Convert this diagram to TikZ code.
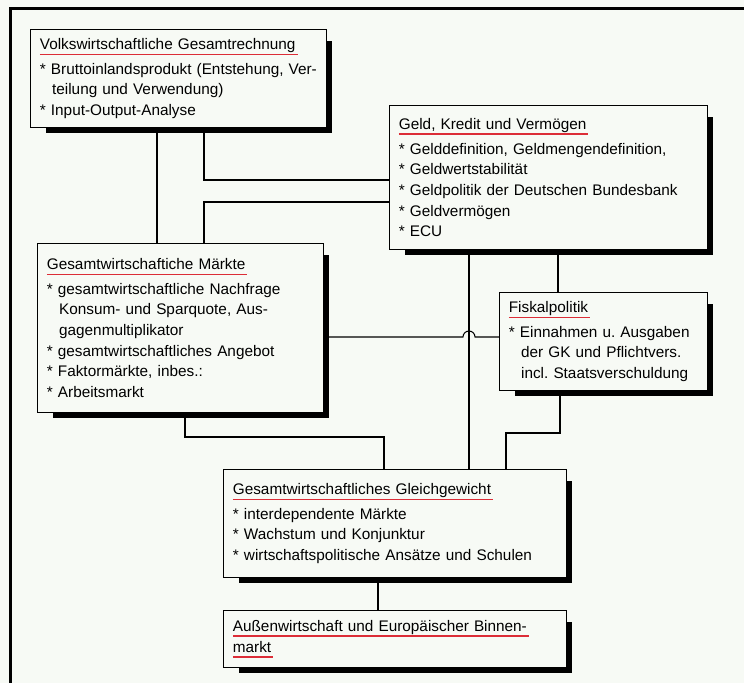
\documentclass[tikz,border=0pt]{standalone}
\usepackage{fontspec}
\setmainfont{Liberation Sans}
\usepackage{xcolor}
\usetikzlibrary{backgrounds}

\definecolor{paper}{RGB}{247,250,245}
\definecolor{ttlred}{RGB}{220,45,55}

\newsavebox{\ttlbox}
\newcommand{\ttl}[1]{\leavevmode\sbox{\ttlbox}{#1}\rlap{\textcolor{ttlred}{\rule[-4.2pt]{\dimexpr\wd\ttlbox+1.5pt\relax}{1.2pt}}}\usebox{\ttlbox}}
\newcommand{\itm}{*\ }
\newcommand{\cont}{\leavevmode\hspace*{0.8em}}

\tikzset{
  box/.style={draw, fill=paper, anchor=north west, align=left,
              inner xsep=7pt, inner ysep=4pt, line width=0.8pt,
              font=\fontsize{11.5}{15.5}\selectfont},
  link/.style={line width=0.8pt},
}

\begin{document}
\begin{tikzpicture}[x=0.75pt, y=-0.75pt]
                \useasboundingbox (0,0) rectangle (744,683);
                \draw[line width=2pt] (10.5,683) |- (744,8.5);

                \node [box, text width=208pt, minimum height=73.5pt]
                                        (vg) at (30,29)
                        {\ttl{Volkswirtschaftliche Gesamtrechnung}\\[3pt]
                         \itm Bruttoinlandsprodukt (Entstehung, Ver-\\
                         \cont teilung und Verwendung)\\
                         \itm Input-Output-Analyse};
                \node [box, text width=224.5pt, minimum height=108pt]
                                        (geld) at (389,105)
                        {\ttl{Geld, Kredit und Vermögen}\\[3pt]
                         \itm Gelddefinition, Geldmengendefinition,\\
                         \itm Geldwertstabilität\\
                         \itm Geldpolitik der Deutschen Bundesbank\\
                         \itm Geldvermögen\\
                         \itm ECU};
                \node [box, text width=200.5pt, minimum height=126.75pt]
                                        (mk) at (37,243)
                        {\ttl{Gesamtwirtschaftiche Märkte}\\[3pt]
                         \itm gesamtwirtschaftliche Nachfrage\\
                         \cont Konsum- und Sparquote, Aus-\\
                         \cont gagenmultiplikator\\
                         \itm gesamtwirtschaftliches Angebot\\
                         \itm Faktormärkte, inbes.:\\
                         \itm Arbeitsmarkt};
                \node [box, text width=142pt, minimum height=73.5pt]
                                        (fisk) at (499,292)
                        {\ttl{Fiskalpolitik}\\[3pt]
                         \itm Einnahmen u.\ Ausgaben\\
                         \cont der GK und Pflichtvers.\\
                         \cont incl.\ Staatsverschuldung};
                \node [box, text width=243.25pt, minimum height=81pt]
                                        (gl) at (223,469)
                        {\ttl{Gesamtwirtschaftliches Gleichgewicht}\\[3pt]
                         \itm interdependente Märkte\\
                         \itm Wachstum und Konjunktur\\
                         \itm wirtschaftspolitische Ansätze und Schulen};
                \node [box, text width=243.25pt, minimum height=42.75pt]
                                        (au) at (223,610)
                        {\ttl{Außenwirtschaft und Europäischer Binnen-}\\
                         \ttl{markt}};

                \coordinate (hop) at (469,337);

                \draw[link] (vg.south -| 157,0) -- (mk.north -| 157,0);
                \draw[link] (vg.south -| 204,0) |- (geld.west |- 0,180);
                \draw[link] (mk.north -| 204,0) |- (geld.west |- 0,202);
                \draw[link] (mk.east |- hop) -- ([xshift=-4.5pt]hop)
                            arc[start angle=180, end angle=0, radius=4.5pt]
                            -- (fisk.west |- hop);
                \draw[link] (geld.south -| hop) -- (gl.north -| hop);
                \draw[link] (geld.south -| 558,0) -- (fisk.north -| 558,0);
                \draw[link] (fisk.south -| 560,0) |- (506,433)
                            -- (gl.north -| 506,0);
                \draw[link] (mk.south -| 185,0) |- (384,437)
                            -- (gl.north -| 384,0);
                \draw[link] (gl.south -| 378,0) -- (au.north -| 378,0);

                \begin{scope}[on background layer]
                    \fill[paper] (0,0) rectangle (744,683);
                    \foreach \b in {vg,geld,mk,fisk,gl,au}
                        \fill ([xshift=12pt,yshift=-4pt]\b.south west)
                            rectangle ([xshift=4pt,yshift=-9pt]\b.north east);
                \end{scope}
            \end{tikzpicture}
\end{document}
